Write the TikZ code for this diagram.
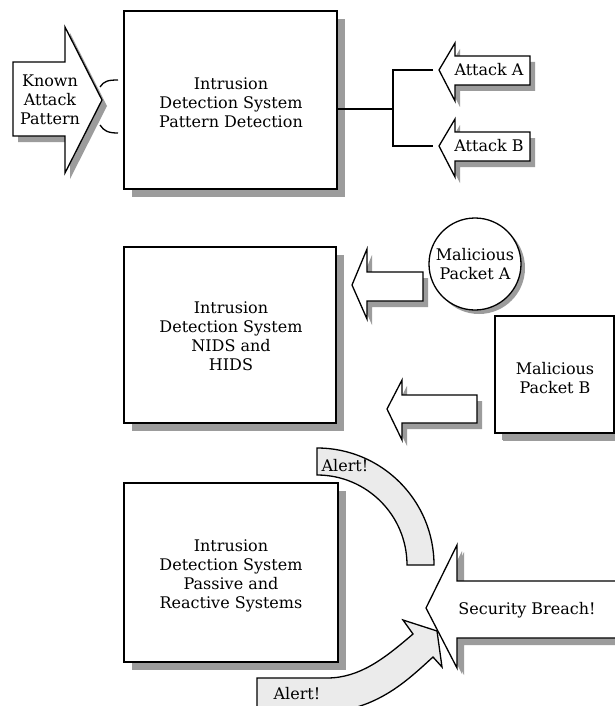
\documentclass[tikz,border=0pt]{standalone}
\usepackage{fontspec}
\setmainfont{DejaVu Serif}
\usetikzlibrary{shadows}
\definecolor{shgray}{HTML}{9C9C9C}
\definecolor{bandfill}{HTML}{EBEBEB}
\begin{document}
\begin{tikzpicture}[x=1pt,y=-1pt,
 txt/.style={font=\fontsize{16}{19}\selectfont, align=center, inner sep=0pt},
 bigbox/.style={draw, line width=2.4pt, fill=white, drop shadow={shadow xshift=8pt, shadow yshift=-8pt, fill=shgray, opacity=1}},
 arr/.style={draw, line width=1.3pt, line join=miter, fill=white, drop shadow={shadow xshift=5pt, shadow yshift=-6pt, fill=shgray, opacity=1}},
 bandarr/.style={draw, line width=1.3pt, line join=miter, fill=bandfill},
 conn/.style={line width=1.3pt}]
\clip (0,0) rectangle (615,706);
\fill[white] (0,0) rectangle (615,706);

% --- top: pattern detection ---
\node[bigbox, minimum width=213pt, minimum height=178pt] (ids1) at (230.5,100) {};
\node[txt] (ids1t) at (231,103) {Intrusion\\Detection System\\Pattern Detection};
\draw[arr] (13,62) -- (65,62) -- (65,27) -- (102,100) -- (65,173) -- (65,136) -- (13,136) -- cycle;
\node[txt] (kap) at (50,100) {Known\\Attack\\Pattern};
\coordinate (kt) at (100,87);
\coordinate (kte) at (118,80);
\coordinate (kb) at (100,125);
\coordinate (kbe) at (118,133);
\draw[conn] (kt) .. controls (104,81) and (108,80) .. (kte);
\draw[conn] (kb) .. controls (104,131) and (108,133) .. (kbe);

\draw[arr] (439,70) -- (455,43) -- (455,56) -- (530,56) -- (530,85) -- (455,85) -- (455,101) -- cycle;
\node[txt] (atkA) at (489,70) {Attack A};
\draw[arr] (439,146) -- (455,119) -- (455,132) -- (530,132) -- (530,161) -- (455,161) -- (455,177) -- cycle;
\node[txt] (atkB) at (489,146) {Attack B};
\coordinate (ca) at (433,70);
\coordinate (cb) at (433,146);
\coordinate (j) at (393,109);
\draw[conn] (ca) -| (j) |- (cb);
\draw[conn] (j) -- (ids1.east |- j);

% --- middle: NIDS and HIDS ---
\node[bigbox, minimum width=212pt, minimum height=176pt] (ids2) at (230,335) {};
\node[txt] (ids2t) at (231,336) {Intrusion\\Detection System\\NIDS and\\HIDS};
\node[draw, circle, line width=1.3pt, fill=white, minimum size=92pt,
  drop shadow={shadow xshift=4pt, shadow yshift=-4pt, fill=shgray, opacity=1}, txt] (mpa) at (475,264)
  {Malicious\\Packet A};
\draw[arr] (352,285) -- (367,249) -- (367,272) -- (423,272) -- (423,301) -- (367,301) -- (367,319) -- cycle;
\node[bigbox, minimum width=119pt, minimum height=117pt, drop shadow={shadow xshift=7pt, shadow yshift=-7pt, fill=shgray, opacity=1}] (mpb) at (554.5,374.5) {};
\node[txt] (mpbt) at (555,378) {Malicious\\Packet B};
\draw[arr] (387,409) -- (402,380) -- (402,395) -- (477,395) -- (477,423) -- (402,423) -- (402,440) -- cycle;

% --- bottom: passive and reactive ---
\node[bigbox, minimum width=214pt, minimum height=179pt] (ids3) at (231,572.5) {};
\node[txt] (ids3t) at (231,576) {Intrusion\\Detection System\\Passive and\\Reactive Systems};
\draw[bandarr] (317,448) arc[start angle=-90, end angle=0, radius=117] -- (407,565)
  arc[start angle=0, end angle=-90, radius=90] -- cycle;
\node[txt] (al1) at (345,466) {Alert!};
\draw[arr, drop shadow={shadow xshift=7pt, shadow yshift=-7pt, fill=shgray, opacity=1}]
  (426,608) -- (457,545) -- (457,581) -- (640,581) -- (640,638) -- (457,638) -- (457,668) -- cycle;
\node[txt] (sb) at (527,610) {Security Breach!};
\draw[bandarr] (257,712) -- (257,678) -- (327,678) .. controls (360,678) and (385,658) .. (413,634)
  -- (403,620) -- (437,631) -- (442,667) -- (433,657)
  .. controls (410,678) and (385,702) .. (345,710) -- (345,712) -- cycle;
\node[txt] (al2) at (297,694) {Alert!};
\end{tikzpicture}
\end{document}
